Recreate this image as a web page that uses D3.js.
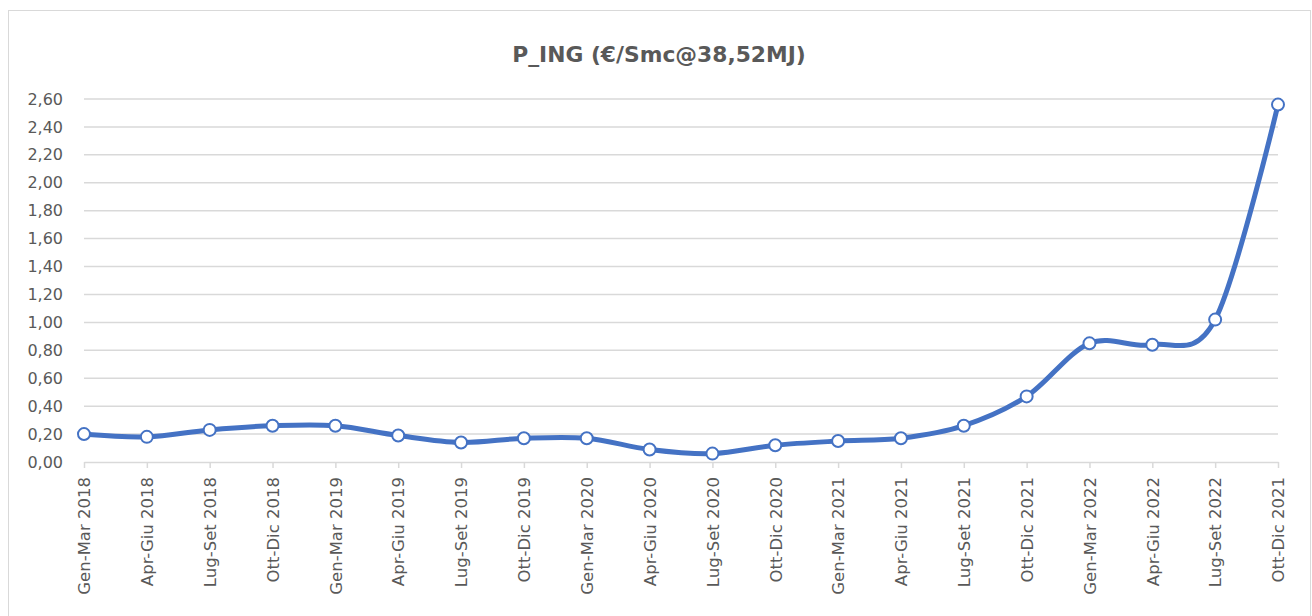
<!DOCTYPE html>
<html>
<head>
<meta charset="utf-8">
<script src="https://cdn.jsdelivr.net/npm/d3@7"></script>
<style>
body{margin:0;background:#fff;}
svg{display:block;}
</style>
</head>
<body>
<svg id="chart" width="1312" height="616"></svg>
<script>
var chartTitle="P_ING (€/Smc@38,52MJ)";
var periods=["Gen-Mar 2018","Apr-Giu 2018","Lug-Set 2018","Ott-Dic 2018",
	"Gen-Mar 2019","Apr-Giu 2019","Lug-Set 2019","Ott-Dic 2019",
	"Gen-Mar 2020","Apr-Giu 2020","Lug-Set 2020","Ott-Dic 2020",
	"Gen-Mar 2021","Apr-Giu 2021","Lug-Set 2021","Ott-Dic 2021",
	"Gen-Mar 2022","Apr-Giu 2022","Lug-Set 2022","Ott-Dic 2021"];
var prices=[0.20,0.18,0.23,0.26,0.26,0.19,0.14,0.17,0.17,0.09,
	0.06,0.12,0.15,0.17,0.26,0.47,0.85,0.84,1.02,2.56];
var yTicks=[0,0.2,0.4,0.6,0.8,1.0,1.2,1.4,1.6,1.8,2.0,2.2,2.4,2.6];

var plotLeft=84, plotRight=1278, plotTop=99, plotBottom=462;
var lineColor="#4472c4";
var gridColor="#d9d9d9";
var textColor="#595959";

var svg=d3.select("#chart");

svg.append("rect")
	.attr("x",8.5).attr("y",10.5)
	.attr("width",1302).attr("height",620)
	.attr("fill","#fff")
	.attr("stroke",gridColor);

svg.append("text")
	.attr("x",659).attr("y",62)
	.attr("text-anchor","middle")
	.attr("font-family","DejaVu Sans")
	.attr("font-weight","bold")
	.attr("font-size","21.8px")
	.attr("fill",textColor)
	.text(chartTitle);

// x uses index so the repeated last label stays its own category
var xScale=d3.scalePoint()
	.domain(d3.range(periods.length))
	.range([plotLeft,plotRight]);

var yScale=d3.scaleLinear()
	.domain([0,2.6])
	.range([plotBottom,plotTop]);

// gridlines
svg.append("g")
	.selectAll("line")
	.data(yTicks.slice(1))
	.enter()
	.append("line")
	.attr("x1",plotLeft).attr("x2",plotRight)
	.attr("y1",d=>yScale(d)).attr("y2",d=>yScale(d))
	.attr("stroke",gridColor)
	.attr("stroke-width",1.5);

var yAxis=d3.axisLeft(yScale)
	.tickValues(yTicks)
	.tickFormat(d=>d3.format(".2f")(d).replace(".",","))
	.tickSize(0)
	.tickPadding(21);

svg.append("g")
	.attr("transform","translate("+plotLeft+",0)")
	.call(yAxis)
	.call(g=>g.select(".domain").remove())
	.selectAll("text")
	.attr("font-family","DejaVu Sans")
	.attr("font-size","16px")
	.attr("fill",textColor);

var xAxis=d3.axisBottom(xScale)
	.tickFormat(i=>periods[i])
	.tickSizeInner(6)
	.tickSizeOuter(0)
	.tickPadding(10);

var xg=svg.append("g")
	.attr("transform","translate(0,"+plotBottom+")")
	.call(xAxis);

xg.select(".domain").attr("stroke",gridColor).attr("stroke-width",1.5);
xg.selectAll(".tick line").attr("stroke",gridColor).attr("stroke-width",1.5);
xg.selectAll("text")
	.attr("font-family","DejaVu Sans")
	.attr("font-size","16.5px")
	.attr("fill",textColor)
	.attr("text-anchor","end")
	.attr("transform","rotate(-90)")
	.attr("x",-15)
	.attr("y",0)
	.attr("dy","0.35em");

var line=d3.line()
	.x((d,i)=>xScale(i))
	.y(d=>yScale(d))
	.curve(d3.curveCatmullRom.alpha(0));

svg.append("path")
	.datum(prices)
	.attr("d",line)
	.attr("fill","none")
	.attr("stroke",lineColor)
	.attr("stroke-width",5)
	.attr("stroke-linecap","round");

svg.append("g")
	.selectAll("circle")
	.data(prices)
	.enter()
	.append("circle")
	.attr("cx",(d,i)=>xScale(i))
	.attr("cy",d=>yScale(d))
	.attr("r",6)
	.attr("fill","#fff")
	.attr("stroke",lineColor)
	.attr("stroke-width",2);
</script>
</body>
</html>
